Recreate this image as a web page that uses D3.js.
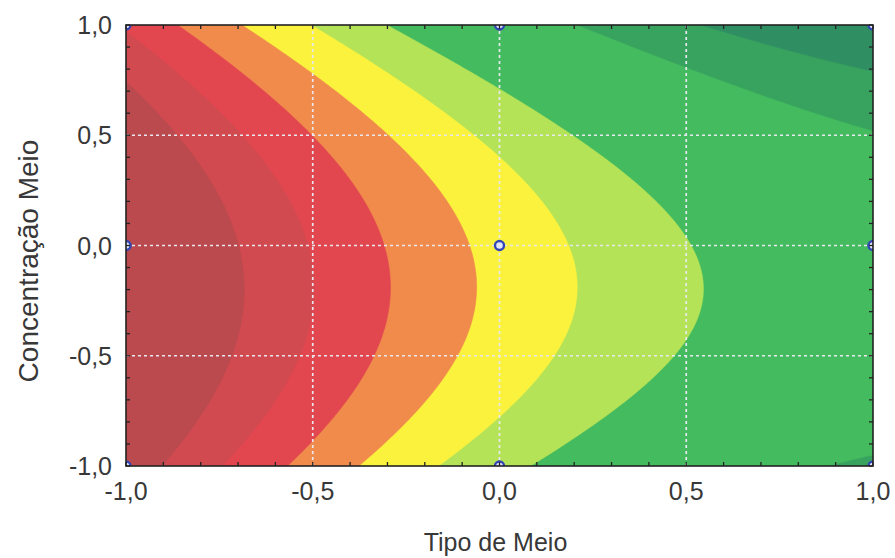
<!DOCTYPE html>
<html>
<head>
<meta charset="utf-8">
<script src="https://cdnjs.cloudflare.com/ajax/libs/d3/7.8.5/d3.min.js"></script>
<style>
  html, body { margin: 0; padding: 0; background: #fff; }
  text { font-family: "Liberation Sans", Arial, sans-serif; fill: #383838; }
</style>
</head>
<body>
<div id="chart"></div>
<script>
// niveis do planejamento 3x3
const tipoLevels = [-1, 0, 1];
const concLevels = [-1, 0, 1];
// resposta lida em cada ponto (linhas: Conc = -1, 0, 1; colunas: Tipo = -1, 0, 1)
const responseRows = [
    [8.63, 3.32, 0.73],
    [9.80, 4.68, 2.00],
    [6.85, 1.68, -1.20]
];
// limites das faixas de contorno (crescente) e cores das faixas
const contourLevels = [-0.15, 0.9, 3, 4, 5, 6, 7, 8];
const bandColors = ['#2f8f63', '#38a35e', '#45bb5f', '#b5e357', '#fbf23e', '#f08b4c', '#e2474f', '#d04a50', '#bb4a4e'];
const tickValues = [-1, -0.5, 0, 0.5, 1];

const width = 895, height = 558;
const margin = { left: 126, right: 22, top: 25, bottom: 92 };

const svg = d3.select('#chart')
    .append('svg')
    .attr('width', width)
    .attr('height', height);

const x = d3.scaleLinear().domain([-1, 1]).range([margin.left, width - margin.right]);
const y = d3.scaleLinear().domain([-1, 1]).range([height - margin.bottom, margin.top]);

// superficie do modelo completo 3^2 (interpolacao quadratica pelos 9 pontos)
function lagrange(t) {
    return [t * (t - 1) / 2, 1 - t * t, t * (t + 1) / 2];
}
function surface(tx, ty) {
    const wx = lagrange(tx), wy = lagrange(ty);
    let s = 0;
    for (let j = 0; j < 3; j++)
        for (let i = 0; i < 3; i++)
            s += wy[j] * wx[i] * responseRows[j][i];
    return s;
}

const n = 240, m = 150;
const gx = d3.scaleLinear().domain([0.5, n - 0.5]).range([-1, 1]);
const gy = d3.scaleLinear().domain([0.5, m - 0.5]).range([1, -1]);
const values = new Array(n * m);
for (let j = 0; j < m; j++)
    for (let i = 0; i < n; i++)
        values[j * n + i] = surface(gx(i + 0.5), gy(j + 0.5));

const contours = d3.contours().size([n, m]).thresholds(contourLevels)(values);

const path = d3.geoPath(d3.geoTransform({
    point: function (px, py) { this.stream.point(x(gx(px)), y(gy(py))); }
}));

svg.append('clipPath').attr('id', 'plotClip')
    .append('rect')
    .attr('x', x(-1)).attr('y', y(1))
    .attr('width', x(1) - x(-1)).attr('height', y(-1) - y(1));

const plot = svg.append('g').attr('clip-path', 'url(#plotClip)');

// faixa mais baixa
plot.append('rect')
    .attr('x', x(-1)).attr('y', y(1))
    .attr('width', x(1) - x(-1)).attr('height', y(-1) - y(1))
    .attr('fill', bandColors[0]);

plot.selectAll('path.band')
    .data(contours)
    .enter()
    .append('path')
    .attr('class', 'band')
    .attr('d', path)
    .attr('fill', (d, i) => bandColors[i + 1])
    .attr('stroke', (d, i) => bandColors[i + 1])
    .attr('stroke-width', 0.5);

// grade tracejada
const gridVals = [-0.5, 0, 0.5];
plot.selectAll('line.gx')
    .data(gridVals)
    .enter()
    .append('line')
    .attr('x1', d => x(d)).attr('x2', d => x(d))
    .attr('y1', y(1)).attr('y2', y(-1))
    .attr('stroke', '#e8e8f0').attr('stroke-width', 1.7)
    .attr('stroke-dasharray', '3,3');
plot.selectAll('line.gy')
    .data(gridVals)
    .enter()
    .append('line')
    .attr('y1', d => y(d)).attr('y2', d => y(d))
    .attr('x1', x(-1)).attr('x2', x(1))
    .attr('stroke', '#e8e8f0').attr('stroke-width', 1.7)
    .attr('stroke-dasharray', '3,3');

// pontos do planejamento
const designPoints = [];
concLevels.forEach(c => tipoLevels.forEach(t => designPoints.push([t, c])));
plot.selectAll('circle')
    .data(designPoints)
    .enter()
    .append('circle')
    .attr('cx', d => x(d[0]))
    .attr('cy', d => y(d[1]))
    .attr('r', 4.5)
    .attr('fill', '#e2e6f6')
    .attr('stroke', '#3346b8')
    .attr('stroke-width', 2.4);

// marcas menores para dentro
const minor = d3.range(-10, 11).map(d => d / 10);
const tickLen = 4;
const ticks = svg.append('g').attr('stroke', '#222').attr('stroke-width', 1.3);
minor.forEach(v => {
    ticks.append('line').attr('x1', x(v)).attr('x2', x(v)).attr('y1', y(-1)).attr('y2', y(-1) - tickLen);
    ticks.append('line').attr('x1', x(v)).attr('x2', x(v)).attr('y1', y(1)).attr('y2', y(1) + tickLen);
    ticks.append('line').attr('y1', y(v)).attr('y2', y(v)).attr('x1', x(-1)).attr('x2', x(-1) + tickLen);
    ticks.append('line').attr('y1', y(v)).attr('y2', y(v)).attr('x1', x(1)).attr('x2', x(1) - tickLen);
});

// moldura
svg.append('rect')
    .attr('x', x(-1)).attr('y', y(1))
    .attr('width', x(1) - x(-1)).attr('height', y(-1) - y(1))
    .attr('fill', 'none')
    .attr('stroke', '#222')
    .attr('stroke-width', 1.6);

const fmt = d => d.toFixed(1).replace('.', ',');

svg.append('g').selectAll('text')
    .data(tickValues)
    .enter()
    .append('text')
    .attr('x', d => x(d))
    .attr('y', y(-1) + 34)
    .attr('text-anchor', 'middle')
    .attr('font-size', 25)
    .text(fmt);

svg.append('g').selectAll('text')
    .data(tickValues)
    .enter()
    .append('text')
    .attr('x', x(-1) - 14)
    .attr('y', d => y(d))
    .attr('dy', '0.36em')
    .attr('text-anchor', 'end')
    .attr('font-size', 25)
    .text(fmt);

svg.append('text')
    .attr('x', x(0) - 4)
    .attr('y', 551)
    .attr('text-anchor', 'middle')
    .attr('font-size', 25)
    .text('Tipo de Meio');

svg.append('text')
    .attr('transform', 'translate(38,261) rotate(-90)')
    .attr('text-anchor', 'middle')
    .attr('font-size', 28)
    .text('Concentração Meio');
</script>
</body>
</html>
